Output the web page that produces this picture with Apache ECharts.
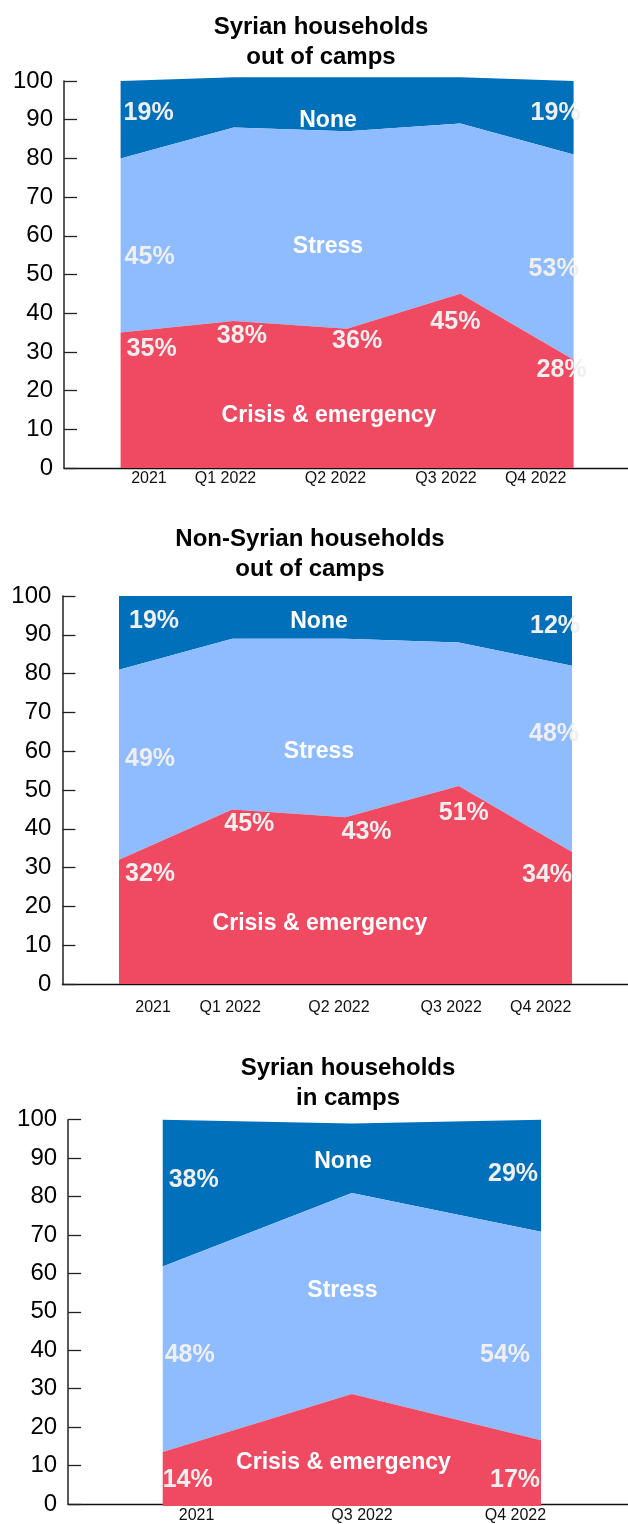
<!DOCTYPE html>
<html>
<head>
<meta charset="utf-8">
<script src="https://cdn.jsdelivr.net/npm/echarts@6/dist/echarts.min.js"></script>
<style>
html,body{margin:0;padding:0;background:#fff;}
#main{width:628px;height:1524px;}
</style>
</head>
<body>
<div id="main"></div>
<script>
// ---------- DATA ----------
const categories1 = ['2021', 'Q1 2022', 'Q2 2022', 'Q3 2022', 'Q4 2022'];
const crisis1 = [35, 38, 36, 45, 28];
const stress1 = [45, 50, 51, 44, 53];
const none1 = [20, 13, 14, 12, 19];
const crisisLbl1 = [35, 38, 36, 45, 28];
const stressLbl1 = [45, null, null, null, 53];
const noneLbl1 = [19, null, null, null, 19];

const categories2 = ['2021', 'Q1 2022', 'Q2 2022', 'Q3 2022', 'Q4 2022'];
const crisis2 = [32, 45, 43, 51, 34];
const stress2 = [49, 44, 46, 37, 48];
const none2 = [19, 11, 11, 12, 18];
const crisisLbl2 = [32, 45, 43, 51, 34];
const stressLbl2 = [49, null, null, null, 48];
const noneLbl2 = [19, null, null, null, 12];

const categories3 = ['2021', 'Q3 2022', 'Q4 2022'];
const crisis3 = [14, 29, 17];
const stress3 = [48, 52, 54];
const none3 = [38, 18, 29];
const crisisLbl3 = [14, null, 17];
const stressLbl3 = [48, null, 54];
const noneLbl3 = [38, null, 29];

const seriesNames = ['Crisis & emergency', 'Stress', 'None'];
const panelTitles = ['Syrian households\nout of camps', 'Non-Syrian households\nout of camps', 'Syrian households\nin camps'];

// ---------- LAYOUT / STYLE ----------
const FONT = 'Liberation Sans, Arial, Helvetica, sans-serif';
const colorList = ['#EF4A62', '#8FBCFF', '#0070BA'];
const LBL_DY = 2;

const panels = [
  {
    cats: categories1, data: [crisis1, stress1, none1], lbls: [crisisLbl1, stressLbl1, noneLbl1],
    top: 81, height: 387,
    frame: { left: 64, width: 564 }, plot: { left: 120.6, width: 453 },
    xMin: -0.5, xMax: 4.48,
    catPos: [0.25, 0.926, 1.897, 2.873, 3.664], catMargin: 3,
    offs: [
      [[31, 15], [8, 13], [10, 10], [-5, 26], [-12, 8]],
      [[29, 97], null, null, null, [-20, 113]],
      [[28, 30], null, null, null, [-18, 30]]
    ],
    title: [321, 42],
    names: [[329, 414], [328, 245], [328, 118.5]]
  },
  {
    cats: categories2, data: [crisis2, stress2, none2], lbls: [crisisLbl2, stressLbl2, noneLbl2],
    top: 596, height: 388,
    frame: { left: 62.4, width: 565.6 }, plot: { left: 119, width: 453 },
    xMin: -0.5, xMax: 4.49,
    catPos: [0.30, 0.98, 1.94, 2.93, 3.72], catMargin: 16,
    offs: [
      [[31, 12], [17, 13], [21, 13], [5, 25], [-25, 21]],
      [[31, 87], null, null, null, [-18, 66]],
      [[35, 23], null, null, null, [-17, 28]]
    ],
    title: [310, 554.6],
    names: [[320, 922], [319, 750], [319, 620]]
  },
  {
    cats: categories3, data: [crisis3, stress3, none3], lbls: [crisisLbl3, stressLbl3, noneLbl3],
    top: 1119.7, height: 386.3,
    frame: { left: 68.1, width: 559.9 }, plot: { left: 162.7, width: 378.3 },
    xMin: -0.5, xMax: 2.46,
    catPos: [0.179, 1.054, 1.865], catMargin: 4,
    offs: [
      [[25, 26], null, [-26, 38]],
      [[27, 87], null, [-36, 121]],
      [[31, 58], null, [-28, 52]]
    ],
    title: [348, 1083.6],
    names: [[343.5, 1461], [342.5, 1288.5], [343, 1159.5]]
  }
];

const grids = [], xAxes = [], yAxes = [], series = [], titles = [];

panels.forEach((p, k) => {
  const gFrame = grids.length;
  grids.push({ left: p.frame.left, width: p.frame.width, top: p.top, height: p.height });
  const gPlot = grids.length;
  grids.push({ left: p.plot.left, width: p.plot.width, top: p.top, height: p.height });

  const catPos = p.catPos, cats = p.cats;
  // frame axes (visible)
  xAxes.push({
    type: 'value', gridIndex: gFrame, min: p.xMin, max: p.xMax,
    axisLine: { show: true, onZero: false, lineStyle: { color: '#111', width: 1.3 } },
    axisTick: { show: false },
    splitLine: { show: false },
    axisLabel: {
      show: true, customValues: catPos, margin: p.catMargin,
      color: '#111', fontSize: 16, fontFamily: FONT,
      formatter: function (v) {
        let best = 0, bd = Infinity;
        catPos.forEach((c, i) => { const d = Math.abs(c - v); if (d < bd) { bd = d; best = i; } });
        return cats[best];
      }
    }
  });
  yAxes.push({
    type: 'value', gridIndex: gFrame, min: 0, max: 100, interval: 10,
    axisLine: { show: true, onZero: false, lineStyle: { color: '#222', width: 1.5 } },
    axisTick: { show: true, inside: true, length: 13, lineStyle: { color: '#222', width: 1.3 } },
    splitLine: { show: false },
    axisLabel: { color: '#000', fontSize: 24, fontFamily: FONT, margin: 11 }
  });
  // plot axes (hidden)
  const xPlot = xAxes.length;
  xAxes.push({
    type: 'category', gridIndex: gPlot, data: cats, boundaryGap: false,
    show: false
  });
  const yPlot = yAxes.length;
  yAxes.push({
    type: 'value', gridIndex: gPlot, min: 0, max: 100, show: false, splitLine: { show: false }
  });

  p.data.forEach((vals, s) => {
    const lbl = p.lbls[s], offs = p.offs[s];
    series.push({
      type: 'line', name: seriesNames[s], stack: 'st' + k,
      xAxisIndex: xPlot, yAxisIndex: yPlot, z: 5 - s,
      silent: true, animation: false, clip: false,
      symbol: 'circle', symbolSize: 1, showAllSymbol: true,
      itemStyle: { color: 'rgba(0,0,0,0)', borderWidth: 0 },
      lineStyle: { width: 0, color: colorList[s] },
      areaStyle: { color: colorList[s], opacity: 1 },
      emphasis: { disabled: true },
      label: {
        show: false, position: 'inside', color: '#efefef',
        fontSize: 25, fontWeight: 'bold', fontFamily: FONT
      },
      data: vals.map((v, i) => ({
        value: v,
        label: lbl[i] != null
          ? { show: true, formatter: lbl[i] + '%', offset: [offs[i][0], offs[i][1] + LBL_DY], color: '#efefef' }
          : { show: false }
      }))
    });
  });
  titles.push({
    text: panelTitles[k], left: p.title[0], top: p.title[1], padding: 0,
    textAlign: 'center', textVerticalAlign: 'middle',
    textStyle: { color: '#000', fontSize: 24, fontWeight: 'bold', fontFamily: FONT, lineHeight: 30 }
  });
  p.names.forEach((pos, s) => {
    titles.push({
      text: seriesNames[s], left: pos[0], top: pos[1] + LBL_DY, padding: 0,
      textAlign: 'center', textVerticalAlign: 'middle', z: 10,
      textStyle: { color: '#fff', fontSize: 23, fontWeight: 'bold', fontFamily: FONT }
    });
  });
});

const chart = echarts.init(document.getElementById('main'), null, { renderer: 'canvas', width: 628, height: 1524 });
chart.setOption({
  backgroundColor: '#fff',
  animation: false,
  title: titles,
  grid: grids,
  xAxis: xAxes,
  yAxis: yAxes,
  series: series
});
</script>
</body>
</html>
